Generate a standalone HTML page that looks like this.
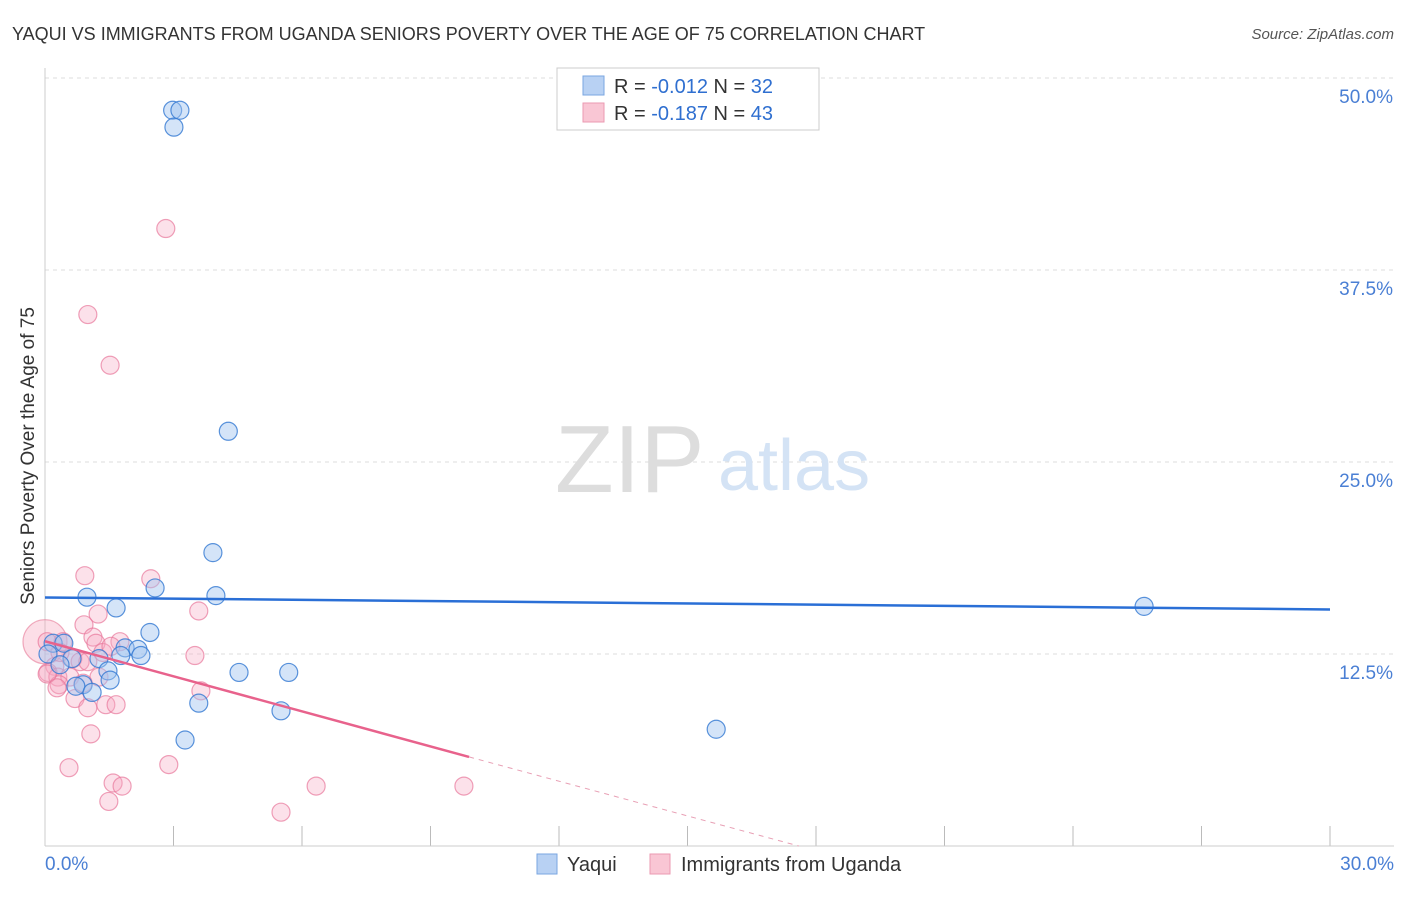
<!DOCTYPE html>
<html><head><meta charset="utf-8"><style>
body{margin:0;background:#fff;font-family:"Liberation Sans",sans-serif;}
svg text{font-family:"Liberation Sans",sans-serif;}
</style></head><body>
<svg width="1406" height="892">
<text x="12" y="40" font-size="18" fill="#333">YAQUI VS IMMIGRANTS FROM UGANDA SENIORS POVERTY OVER THE AGE OF 75 CORRELATION CHART</text>
<text x="1394" y="39" font-size="15" fill="#555" font-style="italic" text-anchor="end">Source: ZipAtlas.com</text>
<g id="grid"></g>
<line x1="45" y1="68" x2="45" y2="846" stroke="#ccc"/>
<line x1="45" y1="846" x2="1394" y2="846" stroke="#ccc"/>
<text x="555" y="492" font-size="96" fill="#ddd" font-family="Liberation Serif">ZIP</text>
<text x="718" y="490" font-size="72" fill="#d4e3f5">atlas</text>
<text transform="translate(34,456) rotate(-90)" font-size="19" fill="#333" text-anchor="middle">Seniors Poverty Over the Age of 75</text>
<text x="45" y="870" font-size="19" fill="#4a7fd4">0.0%</text>
<text x="1394" y="870" font-size="19" fill="#4a7fd4" text-anchor="end">30.0%</text>
<g id="pts"></g>
<g id="trend"></g>
<rect x="557" y="68" width="262" height="62" fill="#fff" stroke="#ccc"/>
<rect x="583" y="76" width="21" height="19" fill="#b8d1f3" stroke="#7aa6e0"/>
<rect x="583" y="103" width="21" height="19" fill="#f9c6d4" stroke="#eb9ab2"/>
<text x="614" y="93" font-size="20" fill="#333">R = <tspan fill="#2f6fd0">-0.012</tspan>   N = <tspan fill="#2f6fd0">32</tspan></text>
<text x="614" y="120" font-size="20" fill="#333">R =  <tspan fill="#2f6fd0">-0.187</tspan>   N = <tspan fill="#2f6fd0">43</tspan></text>
<rect x="537" y="854" width="20" height="20" fill="#b8d1f3" stroke="#7aa6e0"/>
<text x="567" y="871" font-size="20" fill="#333">Yaqui</text>
<rect x="650" y="854" width="20" height="20" fill="#f9c6d4" stroke="#eb9ab2"/>
<text x="681" y="871" font-size="20" fill="#333">Immigrants from Uganda</text>
</svg>
<script>
const yTicks=[12.5,25,37.5,50];
const yTickLabels=["12.5%","25.0%","37.5%","50.0%"];
const xTicks=[3,6,9,12,15,18,21,24,27,30];
const yaquiX=[2.98,3.15,3.01,4.28,3.92,2.57,0.98,3.99,1.66,2.45,0.19,0.44,1.87,2.17,0.07,2.24,1.26,1.77,0.63,1.47,4.53,5.69,0.89,0.72,1.52,1.10,3.59,5.51,3.27,15.67,25.66,0.35];
const yaquiY=[47.9,47.9,46.8,27.0,19.1,16.8,16.2,16.3,15.5,13.9,13.2,13.2,12.9,12.8,12.5,12.4,12.2,12.4,12.2,11.4,11.3,11.3,10.5,10.4,10.8,10.0,9.3,8.8,6.9,7.6,15.6,11.8];
const ugX=[2.82,1.00,1.52,0.93,2.47,1.24,3.59,0.91,1.12,1.75,0.42,1.19,1.35,3.50,0.65,0.82,0.23,0.07,0.30,0.58,0.33,0.05,1.26,0.28,0.89,0.70,3.64,1.00,1.42,1.66,1.07,0.56,2.89,1.59,1.80,1.49,5.51,6.33,9.78,0.05,1.00,1.54,0.35];
const ugY=[40.2,34.6,31.3,17.6,17.4,15.1,15.3,14.4,13.6,13.3,13.3,13.2,12.6,12.4,12.2,12.0,11.7,11.3,11.0,11.0,10.5,11.2,11.0,10.3,10.6,9.6,10.1,9.0,9.2,9.2,7.3,5.1,5.3,4.1,3.9,2.9,2.2,3.9,3.9,13.3,12.0,13.0,12.6];
const trendYaqui=[16.18,15.40];
const trendUg=[13.33,5.8,0];
const trendUgX=[0,9.9,17.6];
const NS="http://www.w3.org/2000/svg";
const X=v=>45+v/30*1285, Y=v=>846-v/12.5*192;
const g=document.getElementById('grid');
yTicks.forEach((t,i)=>{
 const l=document.createElementNS(NS,'line');
 l.setAttribute('x1',45);l.setAttribute('x2',1394);l.setAttribute('y1',Y(t));l.setAttribute('y2',Y(t));
 l.setAttribute('stroke','#ddd');l.setAttribute('stroke-dasharray','4,4');
 
 
 g.appendChild(l);
 const tx=document.createElementNS(NS,'text');
 tx.setAttribute('x',1393);tx.setAttribute('y',Y(t)+25);tx.setAttribute('text-anchor','end');
 tx.setAttribute('font-size','19');tx.setAttribute('fill','#4a7fd4');tx.textContent=yTickLabels[i];
 
 
 g.appendChild(tx);
});
xTicks.forEach(t=>{
 const l=document.createElementNS(NS,'line');
 l.setAttribute('x1',X(t));l.setAttribute('x2',X(t));l.setAttribute('y1',826);l.setAttribute('y2',846);
 l.setAttribute('stroke','#bbb');
 
 
 g.appendChild(l);
});
const p=document.getElementById('pts');
function dot(x,y,r,fill,stroke,name){
 const c=document.createElementNS(NS,'circle');
 c.setAttribute('cx',X(x));c.setAttribute('cy',Y(y));c.setAttribute('r',r);
 c.setAttribute('fill',fill);c.setAttribute('stroke',stroke);c.setAttribute('stroke-width','1.2');
 
 
 p.appendChild(c);
}
dot(0,13.3,22,'rgba(245,160,185,0.35)','rgba(230,120,150,0.6)','uganda-point-large');
ugX.forEach((x,i)=>dot(x,ugY[i],9,'rgba(245,170,195,0.35)','rgba(232,120,155,0.7)','uganda-point'));
yaquiX.forEach((x,i)=>dot(x,yaquiY[i],9,'rgba(160,195,240,0.45)','rgba(50,120,210,0.8)','yaqui-point'));
const tr=document.getElementById('trend');
function line(x1,y1,x2,y2,col,w,dash,name){
 const l=document.createElementNS(NS,'line');
 l.setAttribute('x1',X(x1));l.setAttribute('y1',Y(y1));l.setAttribute('x2',X(x2));l.setAttribute('y2',Y(y2));
 l.setAttribute('stroke',col);l.setAttribute('stroke-width',w);if(dash)l.setAttribute('stroke-dasharray',dash);
 
 
 tr.appendChild(l);
}
line(0,trendYaqui[0],30,trendYaqui[1],'#2a6fd6',2.5,null,'yaqui-trendline');
line(trendUgX[0],trendUg[0],trendUgX[1],trendUg[1],'#e8628c',2.5,null,'uganda-trendline');
line(trendUgX[1],trendUg[1],trendUgX[2],trendUg[2],'#e8a0b5',1,'5,5','uganda-trendline-extension');
</script>
</body></html>
